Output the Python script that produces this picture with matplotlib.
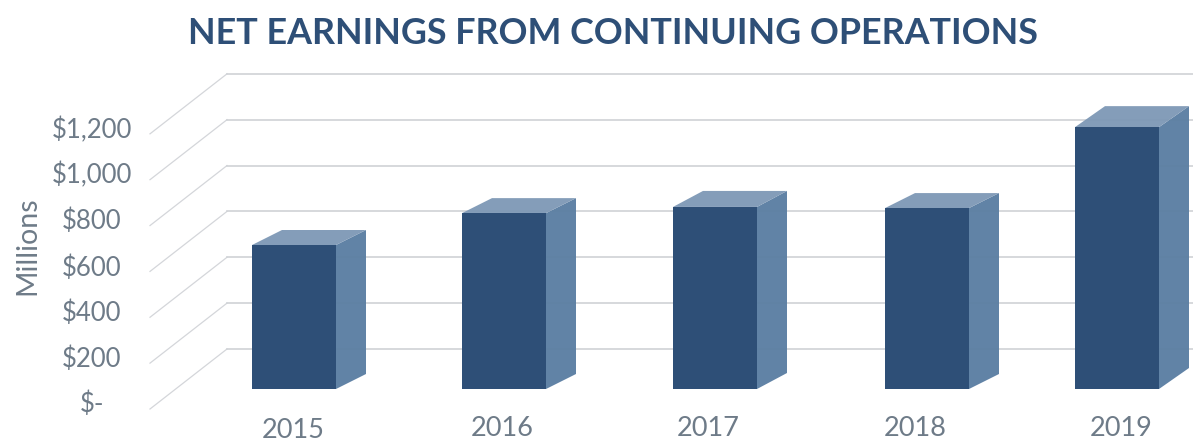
import matplotlib
matplotlib.use("Agg")
import matplotlib.pyplot as plt
from matplotlib.patches import Polygon

years = ["2015", "2016", "2017", "2018", "2019"]
earnings = [628, 767, 794, 789, 1142]
grid_values = [0, 200, 400, 600, 800, 1000, 1200]
grid_labels = ["$-", "$200", "$400", "$600", "$800", "$1,000", "$1,200"]

# Layout of the oblique drawing, in figure pixels
W, H = 1193, 443
PX_PER_UNIT = 0.2293
BASE_PX = 389
bar_left = [252, 462, 673, 885, 1075]
bar_width = 84
depth_x = [30, 30, 30, 30, 30]
depth_y = [15, 15, 16, 15, 21]
year_label_x = [293, 502, 708, 915, 1121]
year_label_y = [430, 429, 429, 429, 428]
tick_label_y = [404, 359, 313, 268, 221, 175, 130]

NAVY = "#2e4f77"
SIDE = "#5c7fa3"
TOP = "#7f99b6"
GRID = "#cfd2d6"
SLANT = "#d4d6da"
TEXT = "#6e7b88"

fig = plt.figure(figsize=(W / 100, H / 100), dpi=100, facecolor="white")
ax = fig.add_axes([0, 0, 1, 1])
ax.set_xlim(0, W)
ax.set_ylim((BASE_PX - H) / PX_PER_UNIT, BASE_PX / PX_PER_UNIT)
ax.axis("off")


def px(n):
    """Vertical pixel distance expressed in value units."""
    return n / PX_PER_UNIT


def from_top(y):
    """Value coordinate of a row counted from the top of the figure."""
    return (BASE_PX - y) / PX_PER_UNIT


# Back wall lines and their slanted floor-side returns
wall_x, wall_lift = 227, 40
for v in grid_values:
    y_back = v + px(wall_lift)
    y_front = v - px(20)
    ax.plot([150, wall_x], [y_front, y_back], color=SLANT, lw=0.9, zorder=1)
    ax.plot([wall_x, W], [y_back, y_back], color=GRID, lw=1.2, zorder=1)

# Oblique bars: side face, top face, front face
for x0, v, dx, dy in zip(bar_left, earnings, depth_x, depth_y):
    x1 = x0 + bar_width
    lift = px(dy)
    ax.add_patch(Polygon([(x1, 0), (x1 + dx, lift), (x1 + dx, v + lift), (x1, v)],
                         closed=True, fc=SIDE, ec="none", alpha=0.97, zorder=2))
    ax.add_patch(Polygon([(x0, v), (x0 + dx, v + lift), (x1 + dx, v + lift), (x1, v)],
                         closed=True, fc=TOP, ec="none", alpha=0.96, zorder=2))
    ax.bar(x0, v, width=bar_width, align="edge", color=NAVY, zorder=3)

font = ["Lato", "Open Sans", "DejaVu Sans"]

for y, label in zip(tick_label_y, grid_labels):
    ax.text(92, from_top(y), label, ha="center", va="center", color=TEXT,
            fontsize=18.5, family=font)

for x, y, label in zip(year_label_x, year_label_y, years):
    ax.text(x, from_top(y), label, ha="center", va="center",
            color=TEXT, fontsize=19.5, family=font)

ax.text(27, from_top(246), "Millions", rotation=90, ha="center",
        va="center", color=TEXT, fontsize=20.5, family=font)

ax.text(613, from_top(33), "NET EARNINGS FROM CONTINUING OPERATIONS",
        ha="center", va="center", color=NAVY, fontsize=25.8, fontweight="bold",
        family=font)

fig.savefig("out.png", dpi=100, facecolor="white")
